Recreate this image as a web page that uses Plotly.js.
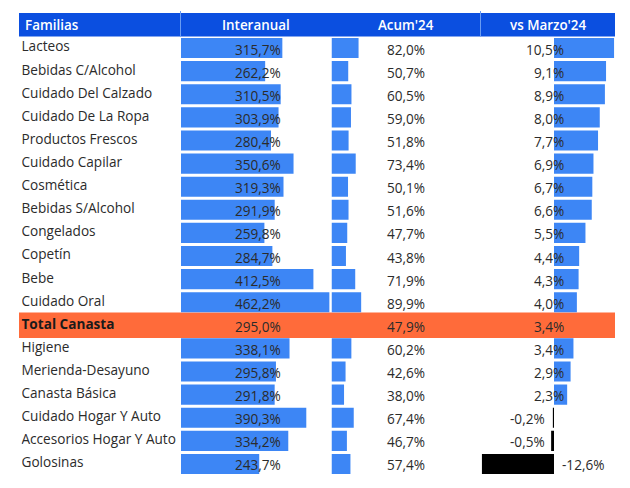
<!DOCTYPE html>
<html>
<head>
<meta charset="utf-8">
<script src="https://cdn.plot.ly/plotly-3.0.1.min.js"></script>
<style>html,body{margin:0;padding:0;background:#fff;}#chart{width:630px;height:488px;}</style>
</head>
<body>
<div id="chart"></div>
<script>
const categories = ["Lacteos","Bebidas C/Alcohol","Cuidado Del Calzado","Cuidado De La Ropa","Productos Frescos","Cuidado Capilar","Cosmética","Bebidas S/Alcohol","Congelados","Copetín","Bebe","Cuidado Oral","Total Canasta","Higiene","Merienda-Desayuno","Canasta Básica","Cuidado Hogar Y Auto","Accesorios Hogar Y Auto","Golosinas"];
const interanual = [315.7,262.2,310.5,303.9,280.4,350.6,319.3,291.9,259.8,284.7,412.5,462.2,295.0,338.1,295.8,291.8,390.3,334.2,243.7];
const acum24 = [82.0,50.7,60.5,59.0,51.8,73.4,50.1,51.6,47.7,43.8,71.9,89.9,47.9,60.2,42.6,38.0,67.4,46.7,57.4];
const vsMarzo24 = [10.5,9.1,8.9,8.0,7.7,6.9,6.7,6.6,5.5,4.4,4.3,4.0,3.4,3.4,2.9,2.3,-0.2,-0.5,-12.6];
const headers = ["Familias","Interanual","Acum'24","vs Marzo'24"];
const totalRow = "Total Canasta";

const W = 630, H = 488;
const px = v => v / W;
const py = v => 1 - v / H;
const BLUE = "#3d86f5", HEAD = "#0b4fe0", ORANGE = "#ff6b3a", TXT = "#2b2b2b";
const FONT = "Open Sans";
const FS = 13.6;

const fmt = v => v.toFixed(1).replace(".", ",") + "%";
const barVals = arr => arr.map((v, i) => categories[i] === totalRow ? null : v);

const traces = [
  {type:"bar", orientation:"h", y:categories, x:barVals(interanual), xaxis:"x", yaxis:"y",
   marker:{color:BLUE}, width:0.87, hoverinfo:"skip"},
  {type:"bar", orientation:"h", y:categories, x:barVals(acum24), xaxis:"x2", yaxis:"y",
   marker:{color:BLUE}, width:0.87, hoverinfo:"skip"},
  {type:"bar", orientation:"h", y:categories, x:barVals(vsMarzo24), xaxis:"x3", yaxis:"y",
   marker:{color:vsMarzo24.map(v => v < 0 ? "#000000" : BLUE)}, width:0.87, hoverinfo:"skip"},
  {type:"scatter", mode:"text", y:categories, x:categories.map(() => 0), xaxis:"x4", yaxis:"y",
   text:categories.map(c => c === totalRow ? "<b>" + c + "</b>" : c),
   textposition:"middle right", cliponaxis:true,
   textfont:{family:FONT, size:FS, color:categories.map(c => c === totalRow ? "#1a1a1a" : TXT)},
   hoverinfo:"skip"}
];

const annotations = [];
const headFont = {family:FONT, size:13.4, color:"#ffffff", weight:600};
[[23, "left"], [256, "center"], [406, "center"], [548, "center"]].forEach((p, k) => {
  annotations.push({xref:"paper", yref:"paper", x:px(p[0]), y:py(24.5), xanchor:p[1], yanchor:"middle", showarrow:false,
    text:headers[k], font:headFont});
});

categories.forEach((c, i) => {
  const f = {family:FONT, size:FS, color:TXT};
  annotations.push({xref:"paper", yref:"y", x:px(283), y:c, xanchor:"right", yanchor:"middle", showarrow:false,
    text:fmt(interanual[i]), font:f, yshift:-1});
  annotations.push({xref:"paper", yref:"y", x:px(406), y:c, xanchor:"center", yanchor:"middle", showarrow:false,
    text:fmt(acum24[i]), font:f, yshift:-1});
  const v = vsMarzo24[i];
  let ax, anc;
  if (v >= 0) { ax = 566; anc = "right"; }
  else if (v < -5) { ax = 560; anc = "left"; }
  else { ax = 547; anc = "right"; }
  annotations.push({xref:"paper", yref:"y", x:px(ax), y:c, xanchor:anc, yanchor:"middle", showarrow:false,
    text:fmt(v), font:f, yshift:-1});
});

const totalIdx = categories.indexOf(totalRow);
const shapes = [
  {type:"rect", xref:"paper", yref:"paper", x0:px(19), x1:px(615), y0:py(36.5), y1:py(13), fillcolor:HEAD, line:{width:0}, layer:"below"},
  {type:"line", xref:"paper", yref:"paper", x0:px(180.5), x1:px(180.5), y0:py(36.5), y1:py(11), line:{color:"#6a9cf2", width:1}},
  {type:"line", xref:"paper", yref:"paper", x0:px(480.5), x1:px(480.5), y0:py(36.5), y1:py(11), line:{color:"#6a9cf2", width:1}},
  {type:"rect", xref:"paper", yref:"y", x0:px(19), x1:px(615), y0:totalIdx - 0.55, y1:totalIdx + 0.55, fillcolor:ORANGE, line:{width:0}, layer:"below"}
];

const hidden = {showgrid:false, zeroline:false, showticklabels:false, showline:false, ticks:"", fixedrange:true};
const iScale = 0.321, aScale = 0.33, vScale = 5.72;
const layout = {
  width:W, height:H,
  margin:{l:0, r:0, t:0, b:0},
  paper_bgcolor:"#ffffff", plot_bgcolor:"rgba(0,0,0,0)",
  showlegend:false, barmode:"overlay",
  yaxis:Object.assign({}, hidden, {type:"category", categoryorder:"array", categoryarray:categories,
    range:[categories.length - 0.5, -0.5], domain:[py(475.5), py(36.5)]}),
  xaxis:Object.assign({}, hidden, {range:[0, 465], domain:[px(181), px(181 + 465 * iScale)], anchor:"y"}),
  xaxis2:Object.assign({}, hidden, {range:[0, 150], domain:[px(331.5), px(331.5 + 150 * aScale)], anchor:"y"}),
  xaxis3:Object.assign({}, hidden, {range:[-13, 11], domain:[px(554 - 13 * vScale), px(554 + 11 * vScale)], anchor:"y"}),
  xaxis4:Object.assign({}, hidden, {range:[0, 1], domain:[px(21.5), px(180)], anchor:"y"}),
  annotations:annotations,
  shapes:shapes
};

Plotly.newPlot("chart", traces, layout, {displayModeBar:false, staticPlot:true});
</script>
</body>
</html>
